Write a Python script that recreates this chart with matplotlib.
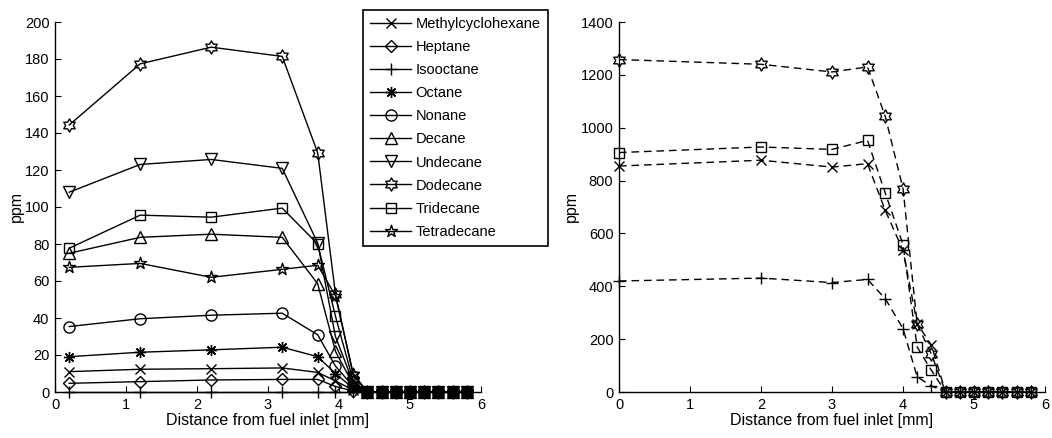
import numpy as np
import matplotlib
matplotlib.use("Agg")
import matplotlib.pyplot as plt
from matplotlib.path import Path

plt.rcParams['font.family'] = ['Liberation Sans', 'DejaVu Sans']

# ---- left panel: species profiles along the channel ----
x_left = [0.2, 1.2, 2.2, 3.2, 3.7, 3.95, 4.2, 4.4, 4.6, 4.8, 5.0, 5.2, 5.4, 5.6, 5.8]
tail = [0, 0, 0, 0, 0, 0, 0, 0]

methylcyclohexane = [11.0, 12.3, 12.6, 13.0, 10.6, 6.0, 1.0] + tail
heptane = [4.7, 5.6, 6.5, 6.8, 6.8, 3.0, 0.5] + tail
isooctane = [0.0, 0.0, 0.0, 0.0, 0.0, 0.0, 0.0] + tail
octane = [19.1, 21.5, 22.8, 24.2, 19.1, 10.0, 2.0] + tail
nonane = [35.4, 39.6, 41.5, 42.6, 30.9, 14.0, 3.0] + tail
decane = [75.0, 83.6, 85.3, 83.6, 58.5, 22.0, 4.0] + tail
undecane = [108.0, 123.0, 125.7, 120.9, 80.5, 30.0, 5.0] + tail
dodecane = [144.3, 177.4, 186.4, 181.4, 129.3, 53.0, 9.0] + tail
tridecane = [77.7, 95.6, 94.5, 99.4, 80.0, 41.0, 6.0] + tail
tetradecane = [67.4, 69.5, 62.0, 66.3, 68.5, 52.0, 10.0] + tail

# ---- right panel: the four measured at higher loading ----
x_right = [0, 2, 3, 3.5, 3.75, 4.0, 4.2, 4.4, 4.6, 4.8, 5.0, 5.2, 5.4, 5.6, 5.8]
tail_r = [0, 0, 0, 0, 0, 0, 0]
methylcyclohexane_r = [855, 877, 851, 864, 687, 536, 259, 177] + tail_r
isooctane_r = [420, 431, 414, 426, 353, 240, 57, 23] + tail_r
dodecane_r = [1258, 1240, 1211, 1230, 1043, 770, 256, 143] + tail_r
tridecane_r = [906, 927, 918, 952, 753, 558, 170, 82] + tail_r

names = ["Methylcyclohexane", "Heptane", "Isooctane", "Octane", "Nonane",
         "Decane", "Undecane", "Dodecane", "Tridecane", "Tetradecane"]

hexagram = Path.unit_regular_star(6, innerCircle=0.577)
pentagram = Path.unit_regular_star(5, innerCircle=0.382)

marker_of = {
    "Methylcyclohexane": ("x", 7),
    "Heptane": ("D", 6.5),
    "Isooctane": ("+", 9),
    "Octane": ((8, 2, 0), 8),
    "Nonane": ("o", 8),
    "Decane": ("^", 8),
    "Undecane": ("v", 8),
    "Dodecane": (hexagram, 9.5),
    "Tridecane": ("s", 7),
    "Tetradecane": (pentagram, 9),
}

left_series = [methylcyclohexane, heptane, isooctane, octane, nonane,
               decane, undecane, dodecane, tridecane, tetradecane]

fig = plt.figure(figsize=(10.52, 4.38), dpi=100)
axL = fig.add_axes([55 / 1052, 46 / 438, 426 / 1052, 370 / 438])
axR = fig.add_axes([619 / 1052, 46 / 438, 426 / 1052, 370 / 438])

handles = []
for name, ys in zip(names, left_series):
    m, ms = marker_of[name]
    h, = axL.plot(x_left, ys, color="black", lw=1.0, marker=m, ms=ms,
                  mfc="none", mec="black", mew=1.0, label=name, clip_on=False)
    handles.append(h)

for name, ys in [("Methylcyclohexane", methylcyclohexane_r), ("Isooctane", isooctane_r),
                 ("Dodecane", dodecane_r), ("Tridecane", tridecane_r)]:
    m, ms = marker_of[name]
    axR.plot(x_right, ys, color="black", lw=1.0, ls=(0, (5.5, 3.5)), marker=m, ms=ms,
             mfc="none", mec="black", mew=1.0, clip_on=False)

for ax, ymax, step in [(axL, 200, 20), (axR, 1400, 200)]:
    ax.set_xlim(0, 6)
    ax.set_ylim(0, ymax)
    ax.set_xticks(range(0, 7))
    ax.set_yticks(np.arange(0, ymax + 1, step))
    ax.spines["top"].set_visible(False)
    ax.spines["right"].set_visible(False)
    for s in ("left", "bottom"):
        ax.spines[s].set_linewidth(1.0)
    ax.tick_params(direction="in", length=4, width=0.8, labelsize=10.5, pad=4)
    ax.set_xlabel("Distance from fuel inlet [mm]", fontsize=11.5, labelpad=1)
    ax.set_ylabel("ppm", fontsize=11.5, labelpad=1)

leg = fig.legend(handles=handles, loc="upper left",
                 bbox_to_anchor=(363 / 1052, 1 - 10 / 438),
                 fontsize=10.5, frameon=True, fancybox=False, framealpha=1,
                 edgecolor="black", handlelength=2.8, handletextpad=0.3,
                 labelspacing=0.62, borderpad=0.5, borderaxespad=0)
leg.get_frame().set_linewidth(1.2)

fig.savefig("out.png", dpi=100)
